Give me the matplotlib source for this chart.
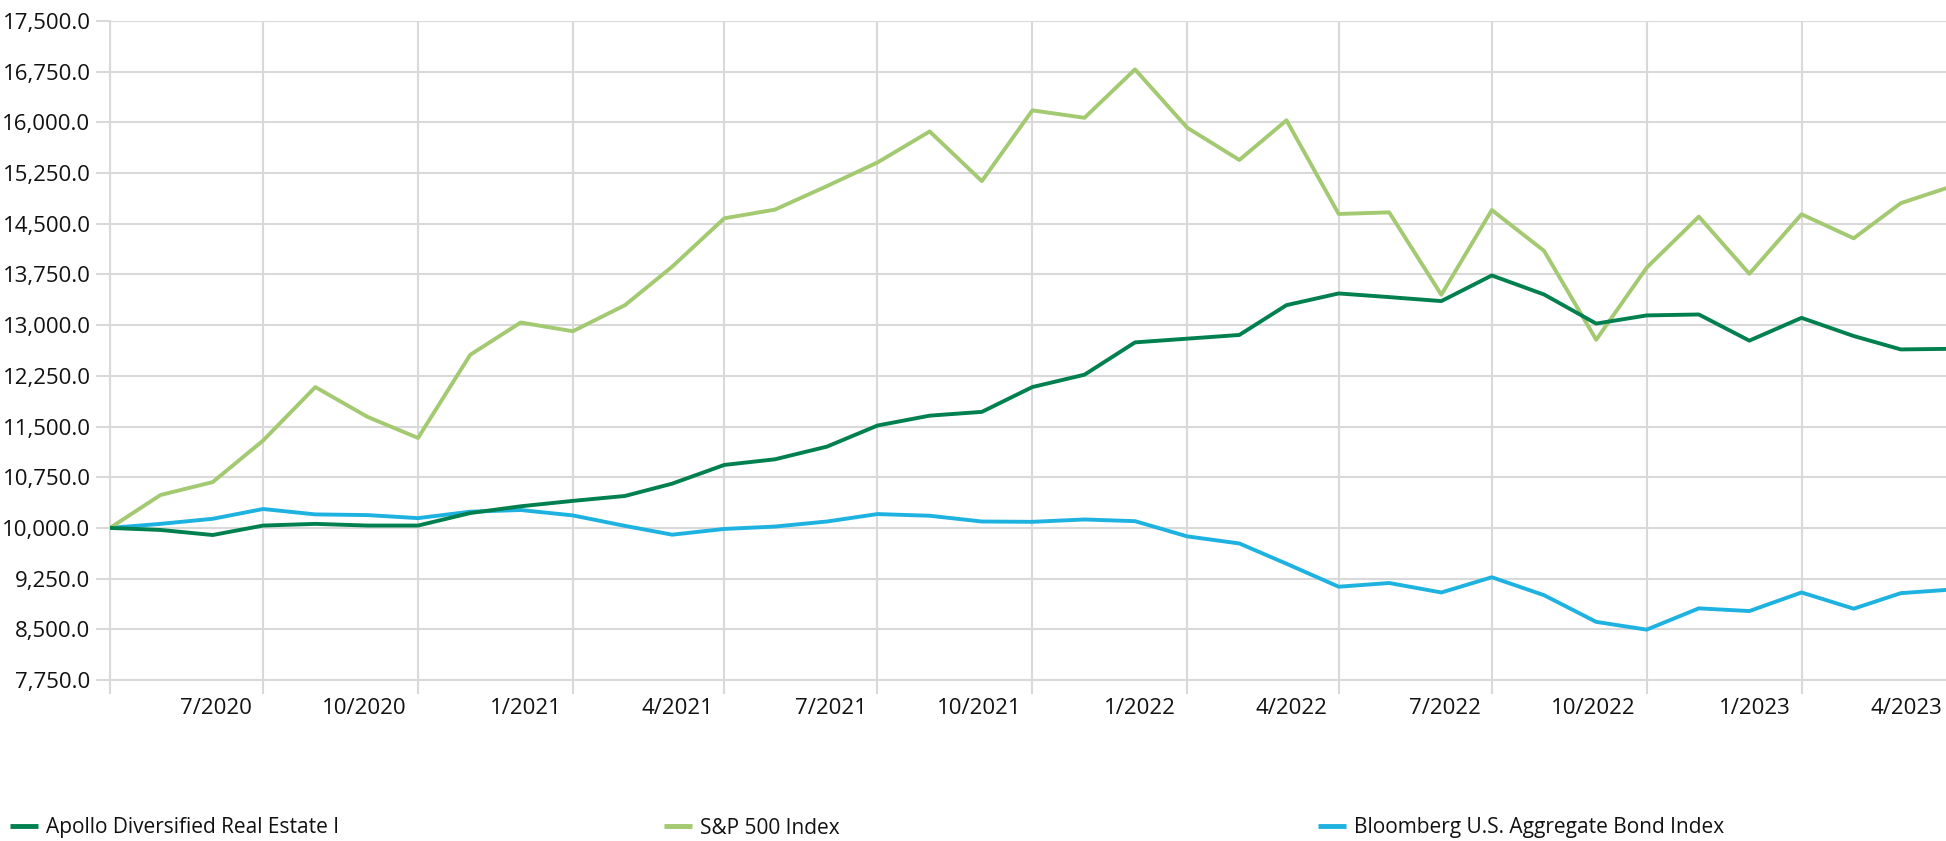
import datetime as dt
import numpy as np
import matplotlib
matplotlib.use("Agg")
import matplotlib.pyplot as plt
import matplotlib.dates as mdates
import matplotlib.transforms as mtransforms
from matplotlib.lines import Line2D
from matplotlib.ticker import FuncFormatter, FixedLocator

plt.rcParams['font.family'] = ['Open Sans', 'DejaVu Sans']

# monthly values, 4/2020 .. 4/2023 (growth of 10,000)
months = [dt.date(2020 + (3 + i) // 12, (3 + i) % 12 + 1, 1) for i in range(37)]

apollo = [10000, 9970, 9895, 10035, 10060, 10035, 10035, 10220, 10320, 10400,
          10473, 10655, 10932, 11015, 11203, 11515, 11661, 11717, 12084, 12267,
          12745, 12800, 12855, 13296, 13469, 13415, 13356, 13735, 13454, 13023,
          13144, 13158, 12771, 13108, 12839, 12641, 12650]
sp500 = [10000, 10487, 10678, 11294, 12084, 11643, 11331, 12561, 13039, 12910,
         13296, 13865, 14581, 14709, 15058, 15407, 15866, 15131, 16178, 16068,
         16784, 15921, 15444, 16031, 14645, 14669, 13450, 14703, 14100, 12784,
         13850, 14606, 13760, 14640, 14285, 14805, 15060]
bond = [10000, 10060, 10135, 10280, 10200, 10190, 10145, 10240, 10265, 10185,
        10030, 9900, 9985, 10020, 10095, 10205, 10180, 10095, 10090, 10125,
        10100, 9875, 9770, 9470, 9130, 9185, 9045, 9270, 9005, 8610,
        8495, 8810, 8770, 9045, 8805, 9035, 9090]

series_names = ["Apollo Diversified Real Estate I", "S&P 500 Index",
                "Bloomberg U.S. Aggregate Bond Index"]
colors = ["#00804F", "#A3C971", "#1EB2E0"]
grid_c = "#D9D9D9"

W, H = 1946, 841
fig = plt.figure(figsize=(W / 100, H / 100), dpi=100)
# the plot runs a little past the right edge of the picture
ax = fig.add_axes([110 / W, (H - 680) / H, 1843 / W, (680 - 21) / H])

ax.plot(months, bond, color=colors[2], lw=2.8, zorder=3)
ax.plot(months, sp500, color=colors[1], lw=2.8, zorder=3)
ax.plot(months, apollo, color=colors[0], lw=2.8, zorder=4)

ax.set_ylim(7750, 17500)
ax.set_xlim(dt.date(2020, 4, 1), dt.date(2023, 4, 1))
ax.yaxis.set_major_locator(FixedLocator(np.arange(7750, 17501, 750)))
ax.yaxis.set_major_formatter(FuncFormatter(lambda v, p: "{:,.1f}".format(v)))

ax.xaxis.set_major_locator(mdates.MonthLocator(bymonth=[1, 4, 7, 10]))


def fmt_date(v, p):
    d = mdates.num2date(v)
    if d.year == 2020 and d.month == 4:
        return ""
    return "{}/{}".format(d.month, d.year)


ax.xaxis.set_major_formatter(FuncFormatter(fmt_date))

ax.grid(True, color=grid_c, lw=1.5, zorder=0)
ax.set_axisbelow(True)
for s in ["top", "right"]:
    ax.spines[s].set_visible(False)
for s in ["left", "bottom"]:
    ax.spines[s].set_color(grid_c)
    ax.spines[s].set_linewidth(1.5)

ax.tick_params(axis="both", colors=grid_c, length=10, width=1.5,
               labelcolor="#111111", labelsize=16)
ax.tick_params(axis="y", pad=4)
ax.tick_params(axis="x", pad=3)

# labels sit just left of their gridline
offset = mtransforms.ScaledTranslation(-11 / 100, 0, fig.dpi_scale_trans)
for lab in ax.get_xticklabels():
    lab.set_horizontalalignment("right")
    lab.set_transform(lab.get_transform() + offset)

# legend row along the bottom
leg_x = [10, 664, 1318]
for name, c, x in zip(series_names, colors, leg_x):
    h = Line2D([], [], color=c, lw=3.5, solid_capstyle="butt")
    leg = fig.legend([h], [name], loc="center left",
                     bbox_to_anchor=(x / W, (H - 828) / H),
                     frameon=False, fontsize=15, handlelength=1.35,
                     handletextpad=0.4, borderpad=0, borderaxespad=0)
    for t in leg.get_texts():
        t.set_color("#111111")

fig.savefig("out.png", dpi=100)
